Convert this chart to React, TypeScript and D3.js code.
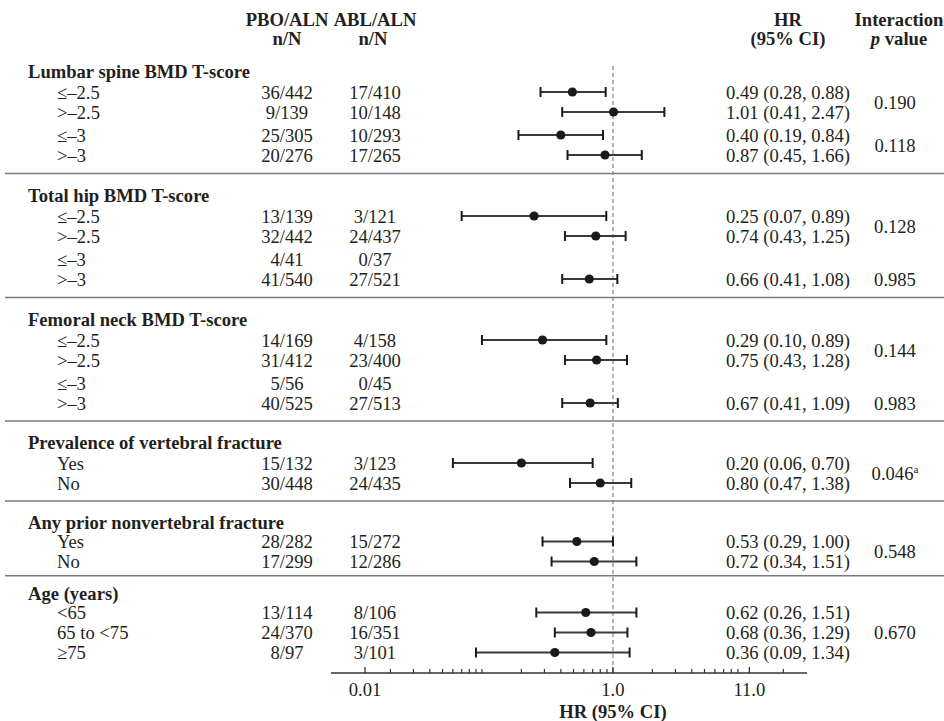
import React, { useEffect, useRef } from "react";
import * as d3 from "d3";

const sectionTitles = [
  "Lumbar spine BMD T-score",
  "Total hip BMD T-score",
  "Femoral neck BMD T-score",
  "Prevalence of vertebral fracture",
  "Any prior nonvertebral fracture",
  "Age (years)",
];

const subgroups = [
  ["≤–2.5", ">–2.5", "≤–3", ">–3"],
  ["≤–2.5", ">–2.5", "≤–3", ">–3"],
  ["≤–2.5", ">–2.5", "≤–3", ">–3"],
  ["Yes", "No"],
  ["Yes", "No"],
  ["<65", "65 to <75", "≥75"],
];

const pboCounts = [
  ["36/442", "9/139", "25/305", "20/276"],
  ["13/139", "32/442", "4/41", "41/540"],
  ["14/169", "31/412", "5/56", "40/525"],
  ["15/132", "30/448"],
  ["28/282", "17/299"],
  ["13/114", "24/370", "8/97"],
];

const ablCounts = [
  ["17/410", "10/148", "10/293", "17/265"],
  ["3/121", "24/437", "0/37", "27/521"],
  ["4/158", "23/400", "0/45", "27/513"],
  ["3/123", "24/435"],
  ["15/272", "12/286"],
  ["8/106", "16/351", "3/101"],
];

const hr = [
  [0.49, 1.01, 0.4, 0.87],
  [0.25, 0.74, null, 0.66],
  [0.29, 0.75, null, 0.67],
  [0.2, 0.8],
  [0.53, 0.72],
  [0.62, 0.68, 0.36],
];

const ciLow = [
  [0.28, 0.41, 0.19, 0.45],
  [0.07, 0.43, null, 0.41],
  [0.1, 0.43, null, 0.41],
  [0.06, 0.47],
  [0.29, 0.34],
  [0.26, 0.36, 0.09],
];

const ciHigh = [
  [0.88, 2.47, 0.84, 1.66],
  [0.89, 1.25, null, 1.08],
  [0.89, 1.28, null, 1.09],
  [0.7, 1.38],
  [1.0, 1.51],
  [1.51, 1.29, 1.34],
];

// interaction p values and the rows each one sits against
const interactionP = [
  ["0.190", "0.118"],
  ["0.128", "0.985"],
  ["0.144", "0.983"],
  ["0.046"],
  ["0.548"],
  ["0.670"],
];
const interactionRows = [
  [[0, 1], [2, 3]],
  [[0, 1], [3]],
  [[0, 1], [3]],
  [[0, 1]],
  [[0, 1]],
  [[1]],
];
const interactionNote = [["", ""], ["", ""], ["", ""], ["a"], [""], [""]];

// the printed axis puts "0.01" a little right of where 0.01 falls on the log scale
const tickValues = [0.0128, 1, 11];
const tickLabels = ["0.01", "1.0", "11.0"];
const minorTicks = [
  0.02, 0.03, 0.04, 0.05, 0.06, 0.07, 0.08, 0.09, 0.1, 0.2, 0.3, 0.4, 0.5,
  0.6, 0.7, 0.8, 0.9, 2, 3, 4, 5, 6, 7, 8, 9, 20,
];

const App = () => {
  const ref = useRef(null);

  useEffect(() => {
    document.body.style.margin = "0";
    const svg = d3.select(ref.current);
    svg.selectAll("*").remove();

    const font = "'Liberation Serif', 'Times New Roman', serif";
    const fs = 18.6;
    const ink = "#231f20";

    const x = d3.scaleLog().domain([0.00704, 30.3]).range([331, 807]);

    const labelX = 57;
    const titleX = 28;
    const pboX = 287;
    const ablX = 375;
    const hrX = 726;
    const pX = 895;

    // vertical layout
    const headerYs = [71, 195, 319, 442, 522, 593];
    const firstRowGap = [21, 21, 21, 21, 19.5, 19.5];
    const rowStep = 20;
    const pairGap = 3;
    const axisY = 673;

    const rowYs: number[][] = subgroups.map((rows, i) => {
      let ry = headerYs[i] + firstRowGap[i];
      return rows.map((_, j) => {
        if (j === 2 && rows.length === 4) ry += pairGap;
        const v = ry;
        ry += rowStep;
        return v;
      });
    });
    const sepYs = headerYs.slice(1).map((hy, i) => {
      const last = rowYs[i][rowYs[i].length - 1];
      return (last + hy) / 2 - 1.5;
    });

    const text = (tx, ty, s, opts: any = {}) =>
      svg
        .append("text")
        .attr("x", tx)
        .attr("y", ty)
        .attr("dy", "0.35em")
        .attr("font-family", font)
        .attr("font-size", opts.size || fs)
        .attr("font-weight", opts.bold ? "bold" : "normal")
        .attr("text-anchor", opts.anchor || "start")
        .attr("fill", ink)
        .text(s);

    // column headers
    const h1 = 19;
    const h2 = 38;
    text(pboX, h1, "PBO/ALN", { bold: true, anchor: "middle" });
    text(ablX, h1, "ABL/ALN", { bold: true, anchor: "middle" });
    text(pboX, h2, "n/N", { bold: true, anchor: "middle" });
    text(ablX - 2, h2, "n/N", { bold: true, anchor: "middle" });
    text(788, h1, "HR", { bold: true, anchor: "middle" });
    text(788, h2, "(95% CI)", { bold: true, anchor: "middle" });
    text(899, h1, "Interaction", { bold: true, anchor: "middle" });
    const pv = text(899, h2, "", { bold: true, anchor: "middle" });
    pv.append("tspan").attr("font-style", "italic").text("p");
    pv.append("tspan").text(" value");

    // reference line at HR = 1
    svg
      .append("line")
      .attr("x1", x(1))
      .attr("x2", x(1))
      .attr("y1", 66)
      .attr("y2", axisY)
      .attr("stroke", "#9a9a9a")
      .attr("stroke-width", 1.5)
      .attr("stroke-dasharray", "4,3");

    // separators between groups
    sepYs.forEach((sy) => {
      svg
        .append("line")
        .attr("x1", 5)
        .attr("x2", 944)
        .attr("y1", sy)
        .attr("y2", sy)
        .attr("stroke", "#7a7a7a")
        .attr("stroke-width", 1.6);
    });

    sectionTitles.forEach((title, i) => {
      text(titleX, headerYs[i], title, { bold: true });
      subgroups[i].forEach((lab, j) => {
        const ry = rowYs[i][j];
        text(labelX, ry, lab);
        text(pboX, ry, pboCounts[i][j], { anchor: "middle" });
        text(ablX, ry, ablCounts[i][j], { anchor: "middle" });
        const est = hr[i][j];
        const lo = ciLow[i][j];
        const hi = ciHigh[i][j];
        if (est == null || lo == null || hi == null) return;
        text(hrX, ry, `${est.toFixed(2)} (${lo.toFixed(2)}, ${hi.toFixed(2)})`);
        const g = svg.append("g");
        g.append("line")
          .attr("x1", x(lo))
          .attr("x2", x(hi))
          .attr("y1", ry)
          .attr("y2", ry)
          .attr("stroke", "#3a3a3a")
          .attr("stroke-width", 1.8);
        [lo, hi].forEach((v) => {
          g.append("line")
            .attr("x1", x(v))
            .attr("x2", x(v))
            .attr("y1", ry - 5)
            .attr("y2", ry + 5)
            .attr("stroke", "#1a1a1a")
            .attr("stroke-width", 2);
        });
        g.append("circle")
          .attr("cx", x(est))
          .attr("cy", ry)
          .attr("r", 4.6)
          .attr("fill", "#1a1a1a");
      });

      interactionP[i].forEach((p, k) => {
        const rows = interactionRows[i][k];
        const py = d3.mean(rows, (r) => rowYs[i][r]);
        const t = text(pX, py, p, { anchor: "middle" });
        const note = interactionNote[i][k];
        if (note) {
          t.append("tspan")
            .attr("font-size", fs * 0.6)
            .attr("dy", "-0.6em")
            .text(note);
        }
      });
    });

    // axis
    svg
      .append("line")
      .attr("x1", x.range()[0])
      .attr("x2", x.range()[1])
      .attr("y1", axisY)
      .attr("y2", axisY)
      .attr("stroke", "#333")
      .attr("stroke-width", 1.5);
    minorTicks.forEach((v) => {
      svg
        .append("line")
        .attr("x1", x(v))
        .attr("x2", x(v))
        .attr("y1", axisY)
        .attr("y2", axisY - 4)
        .attr("stroke", "#333")
        .attr("stroke-width", 1.2);
    });
    tickValues.forEach((v, k) => {
      svg
        .append("line")
        .attr("x1", x(v))
        .attr("x2", x(v))
        .attr("y1", axisY)
        .attr("y2", axisY - 6)
        .attr("stroke", "#333")
        .attr("stroke-width", 1.3);
      text(x(v), axisY + 16, tickLabels[k], { anchor: "middle" });
    });
    text(x(1), axisY + 38, "HR (95% CI)", { bold: true, anchor: "middle" });
  }, []);

  return <svg ref={ref} width={944} height={721} style={{ display: "block", background: "#fff" }} />;
};

export default App;
